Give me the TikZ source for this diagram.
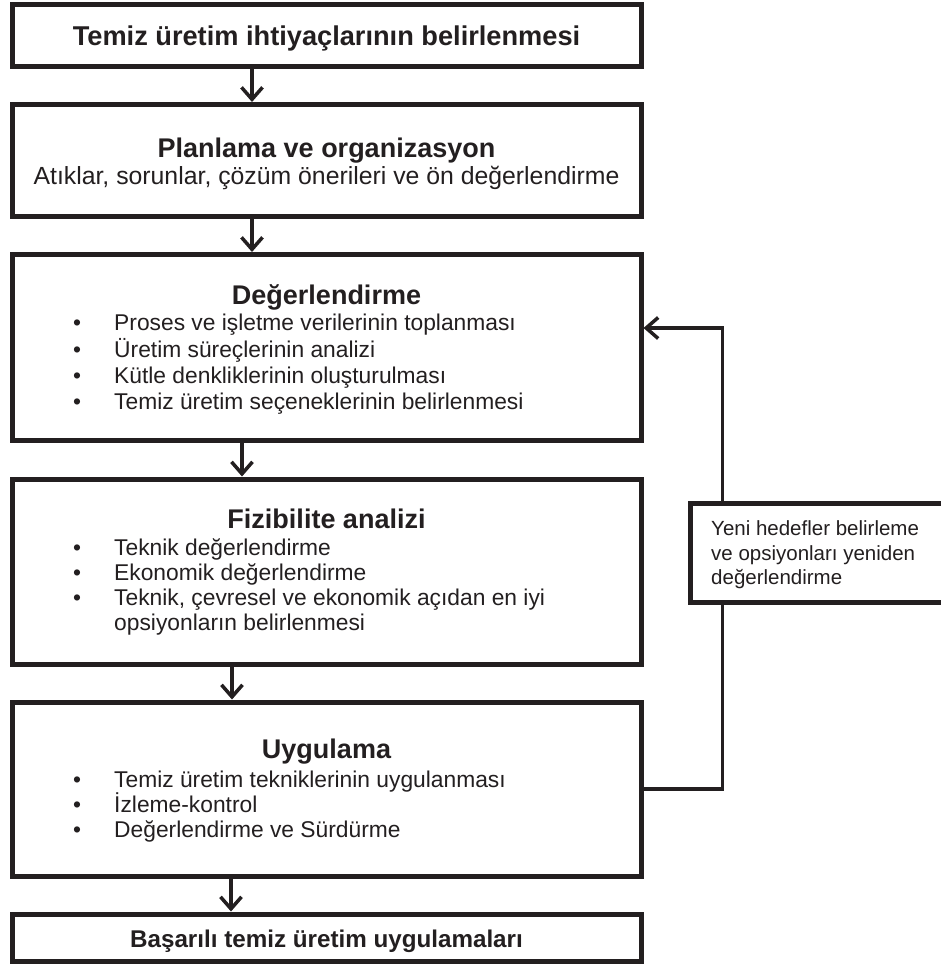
\documentclass[tikz,border=0pt]{standalone}
\usepackage{fontspec}
\setmainfont{Liberation Sans}
\usetikzlibrary{arrows.meta}
\definecolor{ink}{RGB}{35,31,32}
\begin{document}
\begin{tikzpicture}[x=1pt,y=-1pt,
  box/.style={draw=ink, line width=5pt, fill=white, inner sep=0pt, minimum width=629pt},
  arr/.style={draw=ink, line width=3.5pt, -{Straight Barb[length=12pt,width=21pt]}},
  fbarr/.style={draw=ink, line width=3.5pt, -{Straight Barb[length=12pt,width=21pt]}},
  head/.style={anchor=base, inner sep=0pt, text=ink, font=\fontsize{27.2}{30}\selectfont\bfseries},
  title/.style={anchor=base, inner sep=0pt, text=ink, font=\fontsize{27}{30}\selectfont\bfseries},
  sub/.style={anchor=base, inner sep=0pt, text=ink, font=\fontsize{24.8}{28}\selectfont},
  item/.style={anchor=base west, inner sep=0pt, text=ink, font=\fontsize{22.8}{26}\selectfont},
  dot/.style={anchor=base, inner sep=0pt, text=ink, font=\fontsize{22.8}{26}\selectfont},
  side/.style={anchor=base west, inner sep=0pt, text=ink, font=\fontsize{20.5}{24}\selectfont},
  last/.style={anchor=base, inner sep=0pt, text=ink, font=\fontsize{24.2}{28}\selectfont\bfseries}
]
\useasboundingbox (0,0) rectangle (941,964);
\clip (0,0) rectangle (941,964);

% boxes
\node[box, minimum height=61.5pt] (b1) at (326.5,35.25) {};
\node[box, minimum height=111.5pt] (b2) at (326.5,160.25) {};
\node[box, minimum height=185.5pt] (b3) at (326.5,347.25) {};
\node[box, minimum height=185pt] (b4) at (326.5,571.5) {};
\node[box, minimum height=174pt] (b5) at (326.5,789) {};
\node[box, minimum height=47pt] (b6) at (326.5,937.5) {};

% texts
\node[head] (t1) at (326.5,45.5) {Temiz üretim ihtiyaçlarının belirlenmesi};

\node[title] (t2) at (326.5,157) {Planlama ve organizasyon};
\node[sub] (t2s) at (326.5,184) {Atıklar, sorunlar, çözüm önerileri ve ön değerlendirme};

\node[title] (t3) at (326.5,304) {Değerlendirme};
\node[dot] (d31) at (77,330) {•};
\node[item] (i31) at (114,330) {Proses ve işletme verilerinin toplanması};
\node[dot] (d32) at (77,357) {•};
\node[item] (i32) at (114,357) {Üretim süreçlerinin analizi};
\node[dot] (d33) at (77,383) {•};
\node[item] (i33) at (114,383) {Kütle denkliklerinin oluşturulması};
\node[dot] (d34) at (77,409) {•};
\node[item] (i34) at (114,409) {Temiz üretim seçeneklerinin belirlenmesi};

\node[title] (t4) at (326.5,528) {Fizibilite analizi};
\node[dot] (d41) at (77,555) {•};
\node[item] (i41) at (114,555) {Teknik değerlendirme};
\node[dot] (d42) at (77,580) {•};
\node[item] (i42) at (114,580) {Ekonomik değerlendirme};
\node[dot] (d43) at (77,605) {•};
\node[item] (i43) at (114,605) {Teknik, çevresel ve ekonomik açıdan en iyi};
\node[item] (i44) at (114,630) {opsiyonların belirlenmesi};

\node[title] (t5) at (326.5,758) {Uygulama};
\node[dot] (d51) at (77,787) {•};
\node[item] (i51) at (114,787) {Temiz üretim tekniklerinin uygulanması};
\node[dot] (d52) at (77,812) {•};
\node[item] (i52) at (114,812) {İzleme-kontrol};
\node[dot] (d53) at (77,837) {•};
\node[item] (i53) at (114,837) {Değerlendirme ve Sürdürme};

\node[last] (t6) at (326.5,947) {Başarılı temiz üretim uygulamaları};

% arrows
\draw[arr] ([xshift=-74.5pt]b1.south) -- ([xshift=-74.5pt]b2.north);
\draw[arr] ([xshift=-74.5pt]b2.south) -- ([xshift=-74.5pt]b3.north);
\draw[arr] ([xshift=-84.5pt]b3.south) -- ([xshift=-84.5pt]b4.north);
\draw[arr] ([xshift=-94.5pt]b4.south) -- ([xshift=-94.5pt]b5.north);
\draw[arr] ([xshift=-95.5pt]b5.south) -- ([xshift=-95.5pt]b6.north);

% feedback loop
\draw[fbarr] (b5.east) -- ++(79,0) |- ([yshift=19.25pt]b3.east);

% side box (covers the loop line)
\node[draw=ink, line width=5pt, fill=white, inner sep=0pt, minimum width=280pt, minimum height=99pt] (s) at (830,552.5) {};
\node[side] (s1) at (711,535) {Yeni hedefler belirleme};
\node[side] (s2) at (711,560) {ve opsiyonları yeniden};
\node[side] (s3) at (711,584) {değerlendirme};
\end{tikzpicture}
\end{document}
